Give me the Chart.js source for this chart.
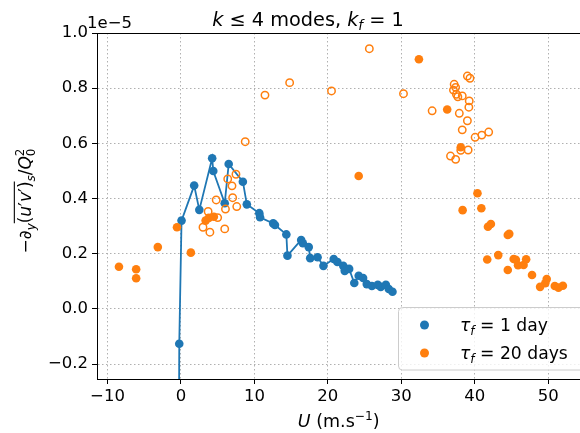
<!DOCTYPE html>
<html>
<head>
<meta charset="utf-8">
<script src="https://cdn.jsdelivr.net/npm/chart.js@4.4.0/dist/chart.umd.min.js"></script>
<style>
html, body { margin: 0; padding: 0; background: #fff; overflow: hidden; }
#wrap { width: 586px; height: 433px; }
</style>
</head>
<body>
<div id="wrap"><canvas id="chart" width="586" height="433"></canvas></div>
<script>
// tau_f = 1 day run (connected), values in units of 1e-5
var blueU   = [-0.5, -0.23, 0.08, 1.8, 2.5, 4.25, 4.4, 5.96, 6.5, 8.43, 8.97, 10.67, 10.77, 12.56, 12.8, 14.35, 14.5, 16.37, 16.6, 17.4, 17.6, 18.6, 19.4, 20.8, 21.3, 22.1, 22.3, 22.9, 23.6, 24.2, 24.8, 25.3, 26.0, 26.8, 27.2, 27.9, 28.3, 28.8];
var blueVal = [-2.0, -0.126, 0.32, 0.447, 0.359, 0.546, 0.50, 0.383, 0.525, 0.461, 0.379, 0.347, 0.332, 0.31, 0.304, 0.27, 0.193, 0.25, 0.238, 0.224, 0.184, 0.187, 0.156, 0.181, 0.17, 0.156, 0.138, 0.145, 0.094, 0.12, 0.112, 0.09, 0.083, 0.087, 0.08, 0.087, 0.072, 0.062];

// tau_f = 20 days, filled markers
var orangeU   = [-8.44, -6.1, -6.1, -3.15, -0.54, 1.35, 3.36, 3.8, 4.48, 24.2, 32.4, 36.25, 38.1, 38.35, 40.37, 40.9, 41.8, 42.2, 44.5, 44.7, 43.2, 41.7, 45.3, 45.6, 45.9, 46.65, 47.0, 44.5, 47.8, 49.6, 49.8, 48.9, 50.9, 51.4, 52.0];
var orangeVal = [0.153, 0.144, 0.111, 0.224, 0.296, 0.204, 0.32, 0.33, 0.334, 0.482, 0.905, 0.723, 0.586, 0.358, 0.419, 0.365, 0.298, 0.308, 0.268, 0.272, 0.195, 0.179, 0.181, 0.178, 0.158, 0.159, 0.18, 0.141, 0.123, 0.093, 0.108, 0.08, 0.083, 0.077, 0.084];

// tau_f = 20 days, open markers (not in legend)
var openU   = [3.0, 3.7, 3.94, 4.8, 5.0, 5.96, 6.06, 6.37, 6.95, 7.04, 7.49, 7.6, 8.75, 11.44, 14.8, 20.5, 25.65, 30.3, 34.2, 36.7, 37.1, 37.2, 37.4, 37.4, 37.5, 37.7, 37.9, 38.1, 38.3, 38.3, 39.0, 39.0, 39.1, 39.2, 39.25, 39.35, 40.05, 40.96, 41.9];
var openVal = [0.296, 0.353, 0.278, 0.395, 0.331, 0.29, 0.362, 0.471, 0.446, 0.403, 0.488, 0.371, 0.606, 0.775, 0.82, 0.79, 0.943, 0.78, 0.718, 0.554, 0.793, 0.814, 0.803, 0.542, 0.778, 0.769, 0.709, 0.575, 0.772, 0.649, 0.844, 0.682, 0.576, 0.731, 0.754, 0.836, 0.622, 0.63, 0.641];

var xTicks = [-10, 0, 10, 20, 30, 40, 50];
var yTicks = [-0.2, 0.0, 0.2, 0.4, 0.6, 0.8, 1.0];

var BLUE = '#1f77b4';
var ORANGE = '#ff7f0e';
var FONT = '"DejaVu Sans", sans-serif';
var FS = 16.5;

function toPoints(xs, ys) {
    return xs.map(function (x, i) { return { x: x, y: ys[i] }; });
}

function minus(s) {
    return s.replace('-', '\u2212');
}

// draw a row of text pieces (italic / sub / sup / overline)
function drawRich(ctx, segs, x, y, size, align) {
    var items = [];
    var cx = 0, prevStart = 0, prevW = 0;
    segs.forEach(function (s) {
        var sz = (s.sub || s.sup) ? size * 0.7 : size;
        var font = (s.it ? 'italic ' : '') + sz + 'px ' + FONT;
        ctx.font = font;
        var w = ctx.measureText(s.t).width;
        var start = cx;
        if (s.ov) {
            start = prevStart;
            cx = Math.max(prevStart + prevW, start + w);
        } else {
            cx += w;
        }
        items.push({ s: s, start: start, w: w, font: font });
        prevStart = start;
        prevW = w;
    });
    var x0 = align === 'center' ? x - cx / 2 : x;
    var barL = null, barR = null;
    items.forEach(function (it) {
        ctx.font = it.font;
        var dy = it.s.sub ? size * 0.22 : (it.s.sup ? -size * 0.42 : 0);
        ctx.fillText(it.s.t, x0 + it.start, y + dy);
        if (it.s.bar) {
            if (barL === null) barL = x0 + it.start;
            barR = x0 + it.start + it.w;
        }
    });
    if (barL !== null) {
        ctx.beginPath();
        ctx.lineWidth = 1.1;
        ctx.strokeStyle = '#000';
        ctx.moveTo(barL, y - size * 0.98);
        ctx.lineTo(barR, y - size * 0.98);
        ctx.stroke();
    }
}

var decorPlugin = {
    id: 'decor',
    afterDraw: function (chart) {
        var ctx = chart.ctx;
        var a = chart.chartArea;
        ctx.save();
        // top spine
        ctx.strokeStyle = '#000';
        ctx.lineWidth = 1;
        ctx.beginPath();
        ctx.moveTo(a.left, a.top + 0.5);
        ctx.lineTo(a.right, a.top + 0.5);
        ctx.stroke();

        ctx.fillStyle = '#000';
        ctx.textBaseline = 'alphabetic';
        ctx.textAlign = 'left';

        // title
        drawRich(ctx, [
            { t: 'k', it: true }, { t: ' \u2264 4 modes, ' },
            { t: 'k', it: true }, { t: 'f', it: true, sub: true }, { t: ' = 1' }
        ], 308, 26, 19.3, 'center');

        // offset text
        ctx.font = FS + 'px ' + FONT;
        ctx.fillText('1e\u22125', 87, 28);

        // x label
        drawRich(ctx, [
            { t: 'U', it: true }, { t: ' (m.s' }, { t: '\u22121', sup: true }, { t: ')' }
        ], (a.left + a.right) / 2, 427, 17.5, 'center');

        // y label
        ctx.save();
        ctx.translate(31, 201);
        ctx.rotate(-Math.PI / 2);
        drawRich(ctx, [
            { t: '\u2212\u2202' }, { t: 'y', it: true, sub: true },
            { t: '(', bar: true }, { t: 'u', it: true, bar: true }, { t: '\u2032', bar: true },
            { t: 'v', it: true, bar: true }, { t: '\u2032', bar: true }, { t: ')', bar: true },
            { t: 's', it: true, sub: true }, { t: '/' }, { t: 'Q', it: true },
            { t: '0', sub: true }, { t: '2', sup: true, ov: true }
        ], 0, 0, 17, 'center');
        ctx.restore();

        // legend
        var lx = 398.5, ly = 307.5, lw = 190, lh = 62.5, r = 4;
        ctx.beginPath();
        ctx.moveTo(lx + r, ly);
        ctx.lineTo(lx + lw - r, ly);
        ctx.arcTo(lx + lw, ly, lx + lw, ly + r, r);
        ctx.lineTo(lx + lw, ly + lh - r);
        ctx.arcTo(lx + lw, ly + lh, lx + lw - r, ly + lh, r);
        ctx.lineTo(lx + r, ly + lh);
        ctx.arcTo(lx, ly + lh, lx, ly + lh - r, r);
        ctx.lineTo(lx, ly + r);
        ctx.arcTo(lx, ly, lx + r, ly, r);
        ctx.closePath();
        ctx.fillStyle = 'rgba(255,255,255,0.8)';
        ctx.fill();
        ctx.strokeStyle = '#cccccc';
        ctx.lineWidth = 1;
        ctx.stroke();

        var rows = [
            { c: BLUE, y: 325, segs: [{ t: '\u03c4', it: true }, { t: 'f', it: true, sub: true }, { t: ' = 1 day' }] },
            { c: ORANGE, y: 353, segs: [{ t: '\u03c4', it: true }, { t: 'f', it: true, sub: true }, { t: ' = 20 days' }] }
        ];
        rows.forEach(function (row) {
            ctx.fillStyle = row.c;
            ctx.beginPath();
            ctx.arc(424.5, row.y, 4.5, 0, Math.PI * 2);
            ctx.fill();
            ctx.fillStyle = '#000';
            drawRich(ctx, row.segs, 460, row.y + 6, 17.2, 'left');
        });
        ctx.restore();
    }
};

var ctx = document.getElementById('chart').getContext('2d');
var chart = new Chart(ctx, {
    type: 'scatter',
    data: {
        datasets: [{
            label: 'tau_f = 1 day',
            data: toPoints(blueU, blueVal),
            showLine: true,
            borderColor: BLUE,
            backgroundColor: BLUE,
            borderWidth: 1.8,
            pointRadius: 4.3,
            pointBorderWidth: 0,
            order: 3
        }, {
            label: 'tau_f = 20 days',
            data: toPoints(orangeU, orangeVal),
            backgroundColor: ORANGE,
            borderColor: ORANGE,
            pointRadius: 4.3,
            pointBorderWidth: 0,
            order: 2
        }, {
            label: 'open',
            data: toPoints(openU, openVal),
            backgroundColor: 'rgba(0,0,0,0)',
            borderColor: ORANGE,
            pointRadius: 3.7,
            pointBorderWidth: 1.5,
            order: 1
        }]
    },
    options: {
        responsive: false,
        animation: false,
        events: [],
        layout: { padding: { top: 33, left: 0, right: 0, bottom: 0 } },
        plugins: { legend: { display: false }, tooltip: { enabled: false } },
        scales: {
            x: {
                type: 'linear',
                min: -11.43,
                max: 54.4,
                afterBuildTicks: function (s) { s.ticks = xTicks.map(function (v) { return { value: v }; }); },
                afterFit: function (s) { s.height = 54; },
                ticks: {
                    color: '#000',
                    font: { family: 'DejaVu Sans', size: FS },
                    padding: 3,
                    maxRotation: 0,
                    autoSkip: false,
                    callback: function (v) { return minus(String(v)); }
                },
                grid: { color: '#b0b0b0', lineWidth: 1, tickLength: 5, tickColor: '#000', tickWidth: 1, tickBorderDash: [] },
                border: { display: true, color: '#000', width: 1, dash: [1.5, 2.5] }
            },
            y: {
                type: 'linear',
                min: -0.254,
                max: 1.0,
                afterBuildTicks: function (s) { s.ticks = yTicks.map(function (v) { return { value: v }; }); },
                afterFit: function (s) { s.width = 97; },
                ticks: {
                    color: '#000',
                    font: { family: 'DejaVu Sans', size: FS },
                    padding: 4,
                    autoSkip: false,
                    callback: function (v) { return minus(v.toFixed(1)); }
                },
                grid: { color: '#b0b0b0', lineWidth: 1, tickLength: 5, tickColor: '#000', tickWidth: 1, tickBorderDash: [] },
                border: { display: true, color: '#000', width: 1, dash: [1.5, 2.5] }
            }
        }
    },
    plugins: [decorPlugin]
});
</script>
</body>
</html>
